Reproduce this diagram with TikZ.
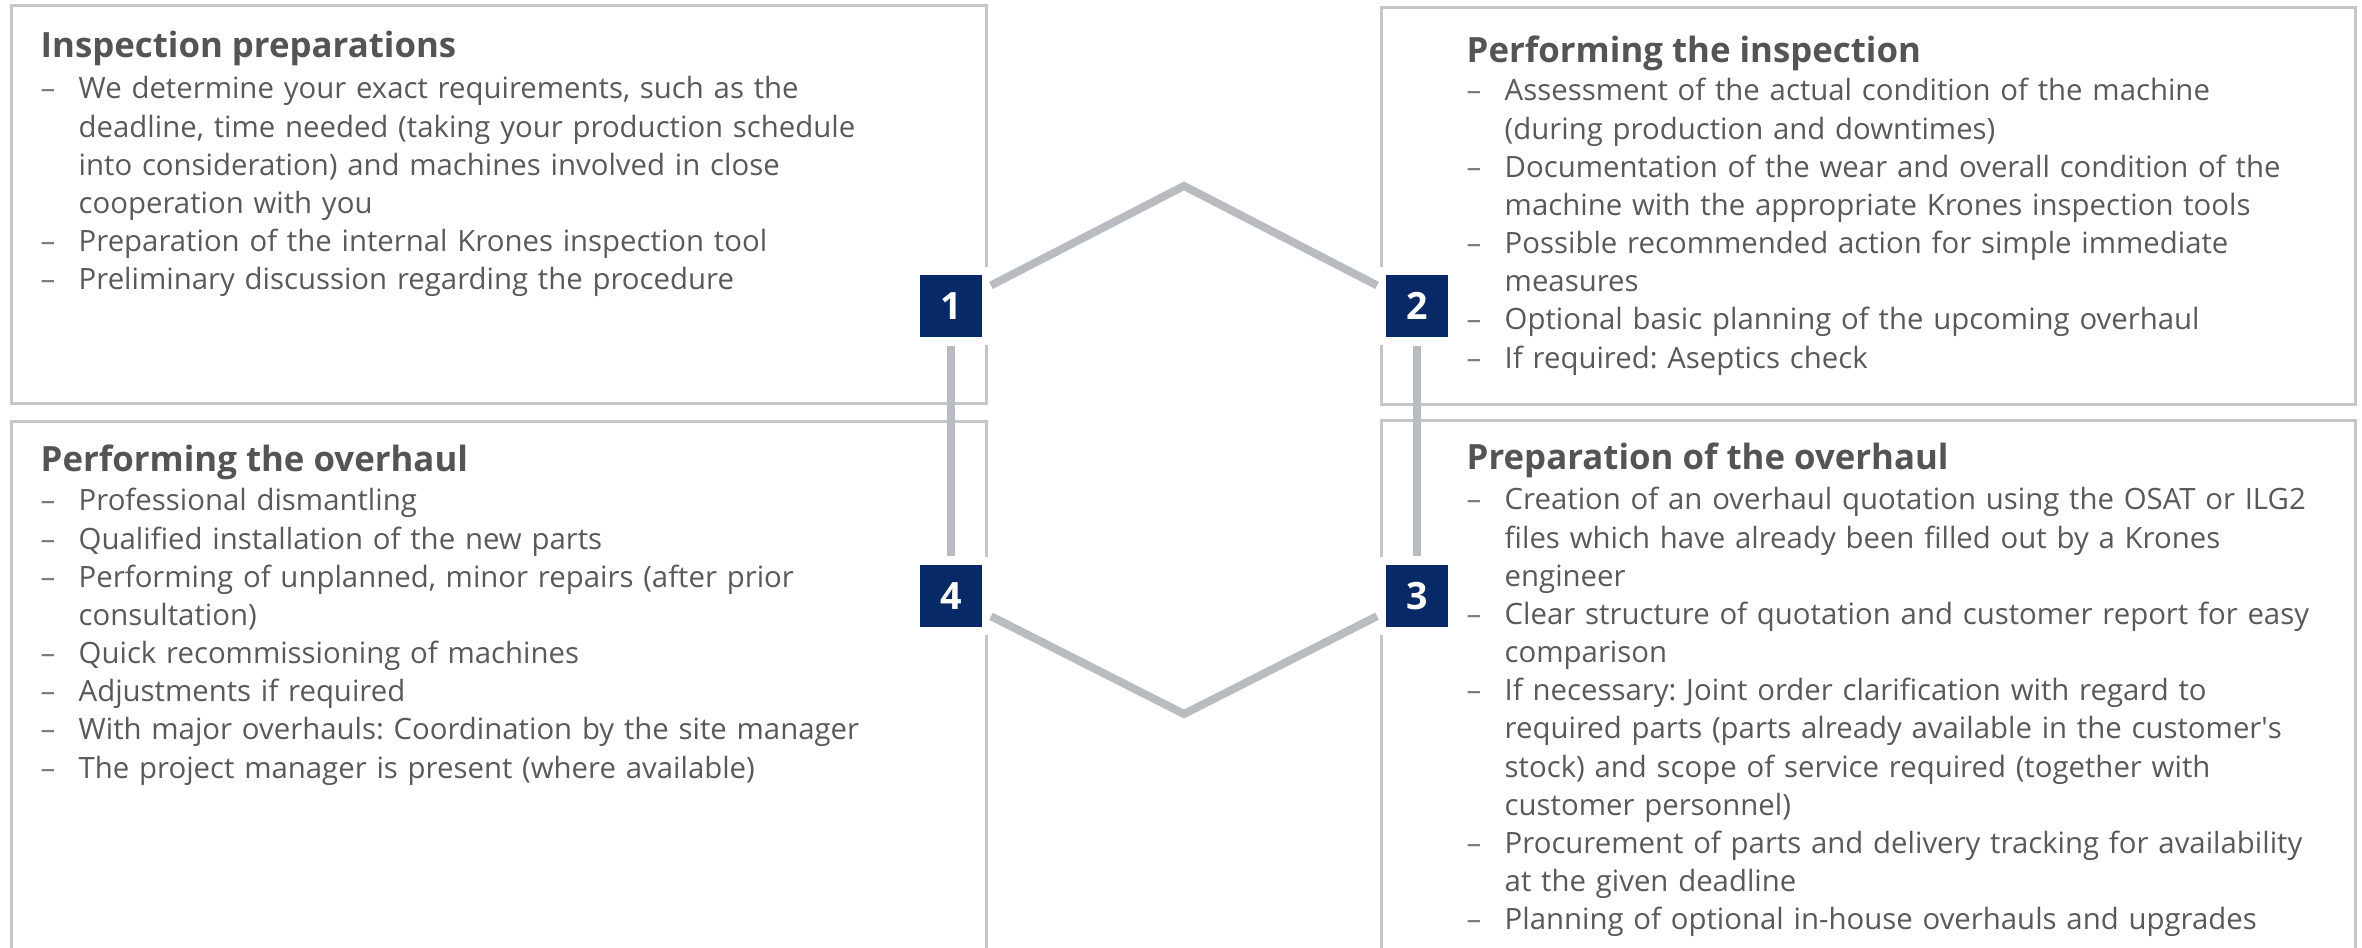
\documentclass[tikz,border=0pt]{standalone}
\usepackage{fontspec}
\setmainfont{Open Sans}
\usepackage{xcolor}
\usepackage{tikz}
\usetikzlibrary{positioning}

\definecolor{kblue}{RGB}{7,41,101}
\definecolor{framegray}{RGB}{196,199,202}
\definecolor{hexgray}{RGB}{184,188,192}
\definecolor{txtgray}{RGB}{89,89,89}
\definecolor{headgray}{RGB}{84,84,84}

\newcommand{\bitem}{\makebox[0.38cm][l]{\textcolor{txtgray!80}{–}}}
\newcommand{\bcont}{\hspace*{0.38cm}}
\frenchspacing

\begin{document}
\begin{tikzpicture}[
                frame/.style={draw=framegray, line width=0.03cm},
                num/.style={fill=kblue, text=white, font=\fontsize{10.7}{12}\selectfont\bfseries,
                    minimum size=0.62cm, inner sep=0pt, outer sep=0.09cm,
                    preaction={draw=white, line width=0.16cm}},
                hexline/.style={draw=hexgray, line width=0.08cm},
                ttl/.style={anchor=base west, inner sep=0pt, text=headgray,
                    font=\fontsize{9.9}{12}\selectfont\bfseries},
                lst/.style={anchor=base west, inner sep=0pt, text=txtgray, align=left,
                    text width=9.2cm, font=\fontsize{8.35}{10.86}\selectfont}
            ]
                \useasboundingbox (0,0) rectangle (23.62,9.48);

                \draw[frame] (0.12,9.42) rectangle (9.86,5.44);
                \draw[frame] (13.81,9.40) rectangle (23.55,5.43);
                \draw[frame] (0.12,0) |- (9.86,5.26) -- (9.86,0);
                \draw[frame] (13.81,0) |- (23.55,5.27) -- (23.55,0);

                \node[num] (n1) at (9.51,6.42) {1};
                \node[num] (n2) at (14.17,6.42) {2};
                \node[num] (n3) at (14.17,3.52) {3};
                \node[num] (n4) at (9.51,3.52) {4};

                \coordinate (hexTop) at (11.84,7.62);
                \coordinate (hexBot) at (11.84,2.34);
                \draw[hexline] (n1) -- (hexTop) -- (n2);
                \draw[hexline] (n4) -- (hexBot) -- (n3);
                \draw[hexline] (n1) -- (n4);
                \draw[hexline] (n2) -- (n3);

                % step 1
                \node[ttl] (ttl1) at (0.40,8.90) {Inspection preparations};
                \node[lst] (lst1) at (0.40,8.49) {%
                    \bitem We determine your exact requirements, such as the\\
                    \bcont deadline, time needed (taking your production schedule\\
                    \bcont into consideration) and machines involved in close\\
                    \bcont cooperation with you\\
                    \bitem Preparation of the internal Krones inspection tool\\
                    \bitem Preliminary discussion regarding the procedure};

                % step 2
                \node[ttl] (ttl2) at (14.66,8.85) {Performing the inspection};
                \node[lst] (lst2) at (14.66,8.47) {%
                    \bitem Assessment of the actual condition of the machine\\
                    \bcont (during production and downtimes)\\
                    \bitem Documentation of the wear and overall condition of the\\
                    \bcont machine with the appropriate Krones inspection tools\\
                    \bitem Possible recommended action for simple immediate\\
                    \bcont measures\\
                    \bitem Optional basic planning of the upcoming overhaul\\
                    \bitem If required: Aseptics check};

                % step 3
                \node[ttl] (ttl3) at (14.66,4.78) {Preparation of the overhaul};
                \node[lst] (lst3) at (14.66,4.38) {%
                    \bitem Creation of an overhaul quotation using the OSAT or ILG2\\
                    \bcont files which have already been filled out by a Krones\\
                    \bcont engineer\\
                    \bitem Clear structure of quotation and customer report for easy\\
                    \bcont comparison\\
                    \bitem If necessary: Joint order clarification with regard to\\
                    \bcont required parts (parts already available in the customer\textquotesingle s\\
                    \bcont stock) and scope of service required (together with\\
                    \bcont customer personnel)\\
                    \bitem Procurement of parts and delivery tracking for availability\\
                    \bcont at the given deadline\\
                    \bitem Planning of optional in-house overhauls and upgrades};

                % step 4
                \node[ttl] (ttl4) at (0.40,4.76) {Performing the overhaul};
                \node[lst] (lst4) at (0.40,4.37) {%
                    \bitem Professional dismantling\\
                    \bitem Qualified installation of the new parts\\
                    \bitem Performing of unplanned, minor repairs (after prior\\
                    \bcont consultation)\\
                    \bitem Quick recommissioning of machines\\
                    \bitem Adjustments if required\\
                    \bitem With major overhauls: Coordination by the site manager\\
                    \bitem The project manager is present (where available)};
            \end{tikzpicture}
\end{document}
